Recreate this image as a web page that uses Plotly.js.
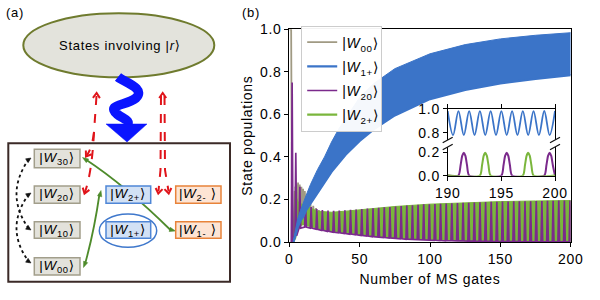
<!DOCTYPE html>
<html><head><meta charset="utf-8">
<script src="https://cdn.plot.ly/plotly-3.0.1.min.js"></script>
<style>html,body{margin:0;padding:0;background:#fff}#chart{width:600px;height:300px}#chart text{letter-spacing:0.7px}</style>
</head><body><div id="chart"></div>
<script>
// ---------------- data ----------------
const w00Gate = [0, 1.3, 2.0, 2.6, 3.2, 3.8, 4.4, 5.0, 5.6, 6.2, 6.8, 7.4, 8.0, 8.6, 9.2, 9.8, 10.4, 11.0, 12, 13, 14, 15, 16, 17, 18, 19, 20, 21, 22, 24, 26, 28, 30, 40, 60, 100, 150, 200];
const w00Pop  = [1.0, 1.0, 0.02, 0.10, 0.05, 0.24, 0.12, 0.27, 0.13, 0.28, 0.12, 0.27, 0.13, 0.26, 0.12, 0.25, 0.12, 0.24, 0.11, 0.20, 0.10, 0.18, 0.10, 0.17, 0.10, 0.16, 0.09, 0.15, 0.09, 0.14, 0.08, 0.13, 0.08, 0.07, 0.05, 0.03, 0.02, 0.015];

const w1pGate = [3, 4.5, 6, 8, 10, 12, 15, 20, 25, 30, 35, 40, 50, 60, 75, 100, 125, 150, 175, 200];
const w1pLow  = [0, 0.04, 0.07, 0.10, 0.12, 0.15, 0.18, 0.225, 0.28, 0.33, 0.37, 0.41, 0.475, 0.53, 0.595, 0.672, 0.715, 0.746, 0.767, 0.785];
const w1pHigh = [0.01, 0.06, 0.11, 0.15, 0.19, 0.22, 0.27, 0.34, 0.40, 0.47, 0.53, 0.58, 0.68, 0.745, 0.815, 0.885, 0.928, 0.955, 0.972, 0.984];

const w2pGate = [2.5, 3.5, 4.2, 5, 6, 8, 10, 12, 15, 20, 30, 40, 50, 60, 75, 100, 125, 150, 175, 200];
const w2pLow  = [0, 0.01, 0.02, 0.05, 0.07, 0.08, 0.085, 0.08, 0.075, 0.068, 0.052, 0.044, 0.036, 0.030, 0.020, 0.012, 0.007, 0.004, 0.002, 0.001];
const w2pHigh = [0, 0.20, 0.26, 0.21, 0.19, 0.18, 0.175, 0.17, 0.16, 0.145, 0.14, 0.145, 0.152, 0.158, 0.167, 0.178, 0.185, 0.19, 0.193, 0.195];

const w20StripeGate = [2.0, 4.6, 7.5, 11.5, 15.5, 19.5, 23.5, 27.5, 31.5, 35.5, 39.5, 43.5, 47.5, 51.5, 55.5, 59.5, 63.5, 67.5, 71.5, 75.5, 79.5, 83.5, 87.5, 91.5, 95.5, 99.5, 103.5, 107.5, 111.5, 115.5, 119.5, 123.5, 127.5, 131.5, 135.5, 139.5, 143.5, 147.5, 151.5, 155.5, 159.5, 163.5, 167.5, 171.5, 175.5, 179.5, 183.5, 187.5, 191.5, 195.5, 199.5];
const w20StripeTop = [0.75, 0.42, 0.26, 0.19, 0.165, 0.155, 0.15, 0.148, 0.147, 0.148, 0.149, 0.151, 0.153, 0.155, 0.157, 0.159, 0.161, 0.163, 0.165, 0.167, 0.169, 0.171, 0.173, 0.175, 0.177, 0.178, 0.179, 0.18, 0.181, 0.182, 0.183, 0.184, 0.185, 0.186, 0.187, 0.188, 0.189, 0.189, 0.19, 0.19, 0.191, 0.191, 0.192, 0.192, 0.193, 0.193, 0.194, 0.194, 0.195, 0.195, 0.195];
const w20StripeBottom = [0, 0.03, 0.065, 0.07, 0.065, 0.06, 0.055, 0.05, 0.046, 0.043, 0.04, 0.037, 0.034, 0.031, 0.028, 0.025, 0.023, 0.021, 0.019, 0.017, 0.015, 0.013, 0.012, 0.011, 0.010, 0.009, 0.008, 0.007, 0.006, 0.006, 0.005, 0.005, 0.004, 0.004, 0.003, 0.003, 0.003, 0.002, 0.002, 0.002, 0.002, 0.002, 0.001, 0.001, 0.001, 0.001, 0.001, 0.001, 0.001, 0.001, 0.001];

const insetBlueGate = [190, 190.5, 191, 191.5, 192, 192.5, 193, 193.5, 194, 194.5, 195, 195.5, 196, 196.5, 197, 197.5, 198, 198.5, 199, 199.5, 200];
const insetW1p      = [0.982, 0.78, 0.982, 0.78, 0.982, 0.78, 0.982, 0.78, 0.982, 0.78, 0.982, 0.78, 0.982, 0.78, 0.982, 0.78, 0.982, 0.78, 0.983, 0.78, 0.983];
const insetW20Gate  = [190, 191, 191.2, 191.35, 191.5, 191.65, 191.8, 192, 195, 195.2, 195.35, 195.5, 195.65, 195.8, 196, 199, 199.2, 199.35, 199.5, 199.65, 199.8, 200];
const insetW20      = [0.002, 0.002, 0.09, 0.17, 0.196, 0.17, 0.09, 0.002, 0.002, 0.09, 0.17, 0.196, 0.17, 0.09, 0.002, 0.002, 0.09, 0.17, 0.196, 0.17, 0.09, 0.002];
const insetW2pGate  = [190, 193, 193.2, 193.35, 193.5, 193.65, 193.8, 194, 197, 197.2, 197.35, 197.5, 197.65, 197.8, 198, 200];
const insetW2p      = [0.002, 0.002, 0.09, 0.17, 0.196, 0.17, 0.09, 0.002, 0.002, 0.09, 0.17, 0.196, 0.17, 0.09, 0.002, 0.002];

const mainTickX = [0, 50, 100, 150, 200];
const mainTickY = [0, 0.2, 0.4, 0.6, 0.8, 1.0];
const insetTickX = [190, 195, 200];
const insetTickHigh = [0.8, 1.0];
const insetTickLow = [0.0, 0.2];
const seriesSubs = ['00', '1+', '20', '2+'];
const stateSubs = ['30', '20', '10', '00', '2+', '1+', '2-', '1-'];

// ---------------- text helpers ----------------
function ket(sub, size, gap) {
  const s = (size * 0.7).toFixed(1), shift = (-size * 0.25).toFixed(1);
  return '|<span style="font-style:italic;font-size:' + size + 'px">W</span><span style="font-size:' + s +
    'px;baseline-shift:' + shift + 'px">' + sub + '</span>' + (gap ? ' ' : '') + '⟩';
}
const seriesNames = seriesSubs.map(s => ket(s, 14, false));

// ---------------- styles ----------------
const C_GRAY = '#a09a83', C_BLUE = '#3b74c8', C_PURPLE = '#7b2a8c', C_GREEN = '#7ab63c';
const FONT = 'Liberation Sans, Arial, DejaVu Sans, sans-serif';

// purple stripes built from the stripe arrays
const w20X = [], w20Y = [];
w20StripeGate.forEach((c, i) => {
  w20X.push(c - 0.6, c, c + 0.6);
  w20Y.push(w20StripeBottom[i], w20StripeTop[i], w20StripeBottom[i]);
});

const traces = [
  {x: w00Gate, y: w00Pop, mode: 'lines', line: {color: C_GRAY, width: 1.8}, name: seriesNames[0], legendrank: 1, legendgroup: 'a'},
  {x: w2pGate, y: w2pLow, mode: 'lines', line: {color: C_GREEN, width: 2.2}, name: seriesNames[3], legendrank: 4, legendgroup: 'd'},
  {x: w2pGate, y: w2pHigh, mode: 'lines', line: {color: C_GREEN, width: 1}, fill: 'tonexty', fillcolor: C_GREEN, showlegend: false, legendgroup: 'd'},
  {x: w20X, y: w20Y, mode: 'lines', line: {color: C_PURPLE, width: 1.7}, name: seriesNames[2], legendrank: 3, legendgroup: 'c'},
  {x: w1pGate, y: w1pLow, mode: 'lines', line: {color: C_BLUE, width: 2.2}, name: seriesNames[1], legendrank: 2, legendgroup: 'b'},
  {x: w1pGate, y: w1pHigh, mode: 'lines', line: {color: C_BLUE, width: 1}, fill: 'tonexty', fillcolor: C_BLUE, showlegend: false, legendgroup: 'b'},
  // inset
  {x: insetBlueGate, y: insetW1p, xaxis: 'x3', yaxis: 'y2', mode: 'lines', line: {color: C_BLUE, width: 1.8, shape: 'spline', smoothing: 1}, showlegend: false},
  {x: insetW20Gate, y: insetW20, xaxis: 'x2', yaxis: 'y3', mode: 'lines', line: {color: C_PURPLE, width: 2, shape: 'spline', smoothing: 0.6}, showlegend: false},
  {x: insetW2pGate, y: insetW2p, xaxis: 'x2', yaxis: 'y3', mode: 'lines', line: {color: C_GREEN, width: 2, shape: 'spline', smoothing: 0.6}, showlegend: false}
];

// ---------------- schematic helpers (pixel -> paper) ----------------
const PX = x => x / 600, PY = y => 1 - y / 300;
const toPaper = d => d.replace(/(-?\d+\.?\d*),(-?\d+\.?\d*)/g, (m, a, b) => (a / 600).toFixed(5) + ',' + (1 - b / 300).toFixed(5));
const NOFILL = 'rgba(0,0,0,0)';
function pathShape(d, color, width, dash, fill) {
  return {type: 'path', xref: 'paper', yref: 'paper', path: toPaper(d), line: {color: color, width: width, dash: dash || 'solid'}, fillcolor: fill || NOFILL, layer: 'above'};
}
function head(tx, ty, fx, fy, L, W, color, filled) {
  const dx = tx - fx, dy = ty - fy, n = Math.hypot(dx, dy), ux = dx / n, uy = dy / n;
  const bx = tx - L * ux, by = ty - L * uy;
  const p1 = (bx - W * uy).toFixed(2) + ',' + (by + W * ux).toFixed(2);
  const p2 = (bx + W * uy).toFixed(2) + ',' + (by - W * ux).toFixed(2);
  const t = tx.toFixed(2) + ',' + ty.toFixed(2);
  return filled ? pathShape(`M ${p1} L ${t} L ${p2} Z`, color, 0.5, 'solid', color)
                : pathShape(`M ${p1} L ${t} L ${p2}`, color, 2, 'solid');
}
function rect(x0, y0, x1, y1, line, fill, w) {
  return {type: 'rect', xref: 'paper', yref: 'paper', x0: PX(x0), x1: PX(x1), y0: PY(y1), y1: PY(y0), line: {color: line, width: w}, fillcolor: fill, layer: 'above'};
}
function ellipse(x0, y0, x1, y1, line, fill, w) {
  return {type: 'circle', xref: 'paper', yref: 'paper', x0: PX(x0), x1: PX(x1), y0: PY(y1), y1: PY(y0), line: {color: line, width: w}, fillcolor: fill, layer: 'above'};
}

const RED = '#e0141a', GRN = '#4e8b2b', BLK = '#111111';
const shapes = [
  rect(8.3, 143.3, 230, 281.7, '#3b2a27', '#ffffff', 2),
  ellipse(23.3, 13.3, 214.3, 77.3, '#6f7b2e', '#e3e3dc', 2),
  // blue wavy arrow
  pathShape('M 118,77 C 124,82 146,88 136,98 C 126,106 106,104 117,114 C 123,119 131,120 127,126', '#0a14ff', 9.5),
  pathShape('M 106,124 L 147,124 L 127,142 Z', '#0a14ff', 0.5, 'solid', '#0a14ff'),
  // red dashed arrows (left)
  pathShape('M 96.5,96 L 94,132 Q 92,148 87,155', RED, 2, 'dash'),
  pathShape('M 94,132 Q 92,172 85,192', RED, 2, 'dash'),
  head(96.6, 93, 96.3, 100, 5, 3.5, RED, false),
  head(86, 156.5, 91, 149, 5, 3.5, RED, false),
  head(84.5, 193.5, 87, 186, 5, 3.5, RED, false),
  // red dashed arrows (right)
  pathShape('M 161,96 L 160.5,170 L 158.5,191', RED, 2, 'dash'),
  pathShape('M 164.5,96 L 165,170 L 168.5,191', RED, 2, 'dash'),
  head(162.7, 93, 162.7, 100, 5, 3.5, RED, false),
  head(158.3, 193.5, 159.5, 186, 5, 3.5, RED, false),
  head(168.7, 193.5, 167.5, 186, 5, 3.5, RED, false),
  // green arrows
  pathShape('M 85,159 Q 126,186 171,230.5', GRN, 1.8),
  head(82.5, 157.5, 90, 162.5, 6, 2.2, GRN, true),
  head(175.5, 231, 168, 229, 6, 2.2, GRN, true),
  pathShape('M 85,264 Q 94,232 99.5,194', GRN, 1.8),
  head(101, 190.5, 99.5, 197, 6, 2.2, GRN, true),
  head(83.5, 267.5, 86, 261, 6, 2.2, GRN, true),
  // black dotted arcs
  pathShape('M 29,159 Q 4,194 29,229', BLK, 1.8, 'dot'),
  pathShape('M 29,194 Q 4,228 29,262', BLK, 1.8, 'dot'),
  head(31, 158, 25, 162, 5, 2.3, BLK, true),
  head(31, 230, 25, 226, 5, 2.3, BLK, true),
  head(31, 193, 25, 197, 5, 2.3, BLK, true),
  head(31, 263, 25, 259, 5, 2.3, BLK, true),
  // state boxes
  rect(34.3, 149.3, 80, 167.7, '#a29e8b', '#e3e2db', 1.5),
  rect(34.3, 186, 80, 203.3, '#a29e8b', '#e3e2db', 1.5),
  rect(34.3, 221.7, 80, 238.3, '#a29e8b', '#e3e2db', 1.5),
  rect(34.3, 257.7, 80, 275, '#a29e8b', '#e3e2db', 1.5),
  rect(106, 186, 150.7, 203.3, '#4f86d6', '#d2e1f5', 1.5),
  rect(106, 221.7, 150.7, 238.3, '#4f86d6', '#d2e1f5', 1.5),
  rect(175.7, 186, 221, 203.3, '#e8833a', '#fde4d4', 1.5),
  rect(175.7, 221.7, 221, 238.3, '#e8833a', '#fde4d4', 1.5),
  ellipse(99.3, 214, 156.7, 247.3, '#3f78cc', NOFILL, 1.5),
  // inset axis break marks
  pathShape('M 442.7,142.7 L 452.7,137.3', BLK, 1.3),
  pathShape('M 442.7,149.7 L 452.7,144.3', BLK, 1.3),
  pathShape('M 550,142.7 L 560,137.3', BLK, 1.3),
  pathShape('M 550,149.7 L 560,144.3', BLK, 1.3)
];

function label(x, y, text, size) {
  return {xref: 'paper', yref: 'paper', x: PX(x), y: PY(y), text: text, showarrow: false, font: {size: size || 14, color: '#000'}, xanchor: 'center', yanchor: 'middle'};
}
const boxCenters = [[57.2, 158.5], [57.2, 194.7], [57.2, 230], [57.2, 266.3], [128.3, 194.7], [128.3, 230], [198.3, 194.7], [198.3, 230]];
const annotations = [
  label(15, 12, '(a)', 13),
  label(251, 12, '(b)', 13),
  label(119, 45, 'States involving |<span style="font-style:italic;font-size:13px">r</span>⟩', 13)
].concat(stateSubs.map((s, i) => label(boxCenters[i][0], boxCenters[i][1], ket(s, 13.5, i >= 6), 13.5)));

const axisBase = {showgrid: false, zeroline: false, showline: true, linecolor: '#000', linewidth: 1, ticks: 'outside', ticklen: 4, tickwidth: 1, tickcolor: '#000', tickfont: {size: 14}};

const layout = {
  width: 600, height: 300,
  margin: {l: 0, r: 0, t: 0, b: 0},
  paper_bgcolor: '#fff', plot_bgcolor: 'rgba(0,0,0,0)',
  font: {family: FONT, size: 14, color: '#000'},
  showlegend: true,
  legend: {x: 0.502, y: 0.915, xanchor: 'left', yanchor: 'top', bgcolor: 'rgba(255,255,255,0.95)', bordercolor: '#cccccc', borderwidth: 1, font: {size: 14}, itemwidth: 30, tracegroupgap: 3, traceorder: 'grouped'},
  xaxis: Object.assign({}, axisBase, {domain: [0.4822, 0.9512], range: [0, 200], anchor: 'y', mirror: true, tickvals: mainTickX, title: {text: 'Number of MS gates', standoff: 8, font: {size: 14}}}),
  yaxis: Object.assign({}, axisBase, {domain: [0.1933, 0.9023], range: [0, 1], anchor: 'x', mirror: true, tickvals: mainTickY, tickformat: '.1f', title: {text: 'State populations', standoff: 6, font: {size: 14}}}),
  xaxis2: Object.assign({}, axisBase, {domain: [0.7462, 0.925], range: [190, 200], anchor: 'y3', tickvals: insetTickX}),
  yaxis3: Object.assign({}, axisBase, {domain: [0.4143, 0.509], range: [0, 0.243], anchor: 'x2', mirror: true, tickvals: insetTickLow, tickformat: '.1f'}),
  xaxis3: Object.assign({}, axisBase, {domain: [0.7462, 0.925], range: [190, 200], anchor: 'y2', side: 'top', tickvals: insetTickX, showticklabels: false}),
  yaxis2: Object.assign({}, axisBase, {domain: [0.5333, 0.6367], range: [0.738, 1.0], anchor: 'x3', mirror: true, tickvals: insetTickHigh, tickformat: '.1f'}),
  shapes: shapes,
  annotations: annotations
};

Plotly.newPlot('chart', traces, layout, {displayModeBar: false, staticPlot: true});
</script></body></html>
